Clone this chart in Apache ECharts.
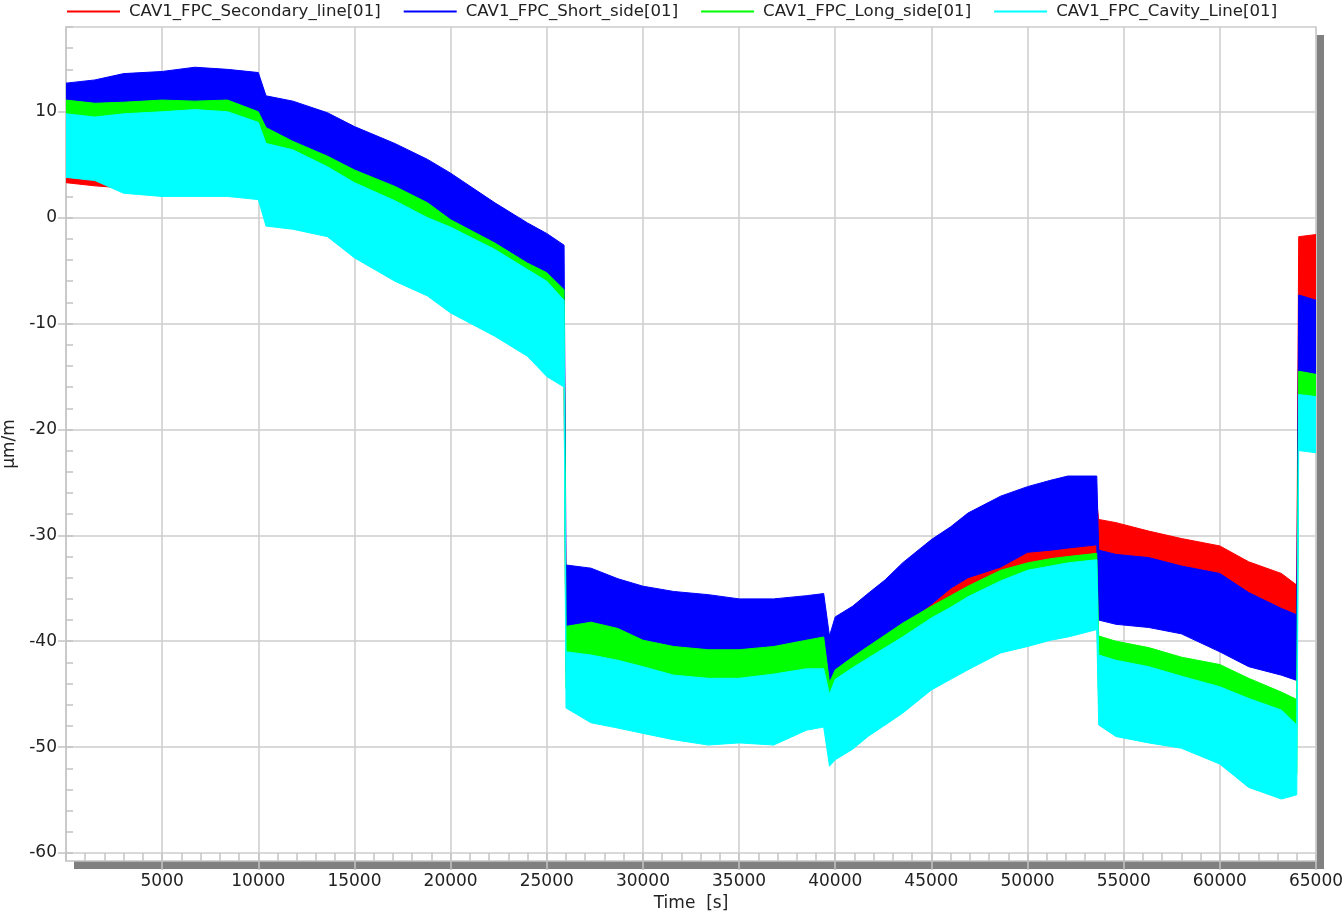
<!DOCTYPE html>
<html>
<head>
<meta charset="utf-8">
<title>CAV1 FPC strain</title>
<script src="https://cdn.jsdelivr.net/npm/echarts@6/dist/echarts.min.js"></script>
<style>
  html, body { margin: 0; padding: 0; background: #ffffff; }
  #chart { width: 1342px; height: 915px; }
</style>
</head>
<body>
<div id="chart"></div>
<script>
// Sample times [s] shared by every channel envelope
const timeS = [0, 1500, 3000, 5000, 6700, 8400, 10000, 10400, 11800, 13600, 15000, 17100, 18800, 20000, 22300, 24000, 25000, 25900,
  26000, 27300, 28700, 30000, 31600, 33400, 35000, 36800, 38500, 39400, 39700,
  40000, 40900, 41700, 42600, 43500, 45000, 46000, 46900, 48600, 50000, 51200, 52100, 53600,
  53700, 54600, 56300, 58000, 60000, 61500, 63200, 64000, 64100, 65000];

// Upper / lower envelope of each strain channel [µm/m]
const secondaryUpper = [10.7, 10.4, 10.5, 10.7, 10.6, 10.7, 9.6, 8.1, 6.8, 5.4, 4.1, 2.5, 1.0, -0.6, -2.8, -4.7, -5.6, -7.2,
  -37.5, -37.5, -38, -38.5, -39, -39.5, -39.5, -39.3, -39, -38.8, -42,
  -40.2, -39.2, -38, -36.7, -35.1, -32.9, -31.7, -30.4, -28.8, -27.9, -27.3, -26.9, -26.9,
  -28.5, -28.8, -29.6, -30.3, -31.0, -32.5, -33.6, -34.7, -1.8, -1.6];
const secondaryLower = [3.3, 3.0, 2.8, 2.5, 2.5, 2.5, 2.2, 0, -0.3, -1.0, -3.0, -5.2, -6.6, -8.2, -10.4, -12.3, -14.2, -15.2,
  -43, -43.5, -44, -44.5, -45, -45.5, -45.5, -45, -44.5, -44.3, -47,
  -43.5, -42.3, -41.3, -40.2, -39.1, -37.5, -36.5, -35.6, -34.1, -33.4, -33.0, -32.8, -32.5,
  -35, -35.5, -36, -36.5, -37, -38.5, -40, -40.5, -10, -10];

const shortUpper = [12.7, 13.0, 13.6, 13.8, 14.2, 14.0, 13.7, 11.5, 11.0, 9.9, 8.6, 7.0, 5.5, 4.2, 1.4, -0.5, -1.5, -2.6,
  -32.8, -33.1, -34.1, -34.8, -35.3, -35.6, -36.0, -36.0, -35.7, -35.5, -39.5,
  -37.7, -36.7, -35.5, -34.2, -32.6, -30.4, -29.2, -27.9, -26.3, -25.4, -24.8, -24.4, -24.4,
  -31.4, -31.8, -32.1, -32.9, -33.6, -35.4, -36.9, -37.5, -7.3, -7.8];
const shortLower = [8, 8, 8, 8, 8, 8, 7, 5, 4.5, 3.5, 2.5, 1, -0.5, -2, -4, -6, -7, -8.5,
  -40, -40.5, -41, -41.5, -42, -42.5, -42.5, -42, -41.5, -41, -44.5,
  -44, -43, -41.5, -40, -38.5, -36.5, -35, -34, -33, -31.6, -31.4, -31.2, -30.9,
  -38.0, -38.4, -38.7, -39.3, -41.0, -42.4, -43.2, -43.7, -15.5, -15.5];

const longUpper = [11.1, 10.8, 10.9, 11.1, 11.0, 11.1, 10.0, 8.5, 7.2, 5.8, 4.5, 2.95, 1.4, -0.2, -2.4, -4.3, -5.2, -6.8,
  -38.6, -38.2, -38.8, -39.9, -40.5, -40.8, -40.8, -40.5, -39.9, -39.6, -43.9,
  -42.7, -41.5, -40.5, -39.4, -38.3, -36.7, -35.7, -34.8, -33.3, -32.6, -32.2, -32.0, -31.7,
  -39.5, -40.0, -40.6, -41.5, -42.2, -43.5, -44.8, -45.5, -14.5, -14.8];
const longLower = [5.5, 5.0, 4.0, 4.0, 4.0, 4.0, 3.5, 1.0, 0.8, 0, -2, -4, -5.5, -7, -9, -11, -13, -14,
  -44.5, -45.5, -46, -46.5, -47, -47.5, -47.5, -47.5, -46.5, -46, -49,
  -49, -48, -47, -46, -45, -43, -42, -41, -39.5, -38.8, -38.2, -37.8, -37.2,
  -46, -47, -47.5, -48, -49.5, -51.5, -52.5, -52.5, -18, -18];

const cavityUpper = [9.8, 9.5, 9.8, 10.0, 10.2, 10.0, 9.0, 7.0, 6.4, 4.8, 3.3, 1.6, 0.0, -0.9, -3.0, -4.9, -6.0, -7.8,
  -41.0, -41.3, -41.8, -42.4, -43.2, -43.5, -43.5, -43.1, -42.6, -42.6, -45.0,
  -43.6, -42.5, -41.6, -40.6, -39.6, -37.8, -36.8, -35.8, -34.3, -33.3, -32.9, -32.6, -32.3,
  -41.3, -41.8, -42.4, -43.3, -44.3, -45.4, -46.5, -47.9, -16.7, -16.9];
const cavityLower = [3.8, 3.5, 2.3, 2.0, 2.0, 2.0, 1.7, -0.8, -1.1, -1.8, -3.8, -6.0, -7.4, -9.0, -11.2, -13.1, -15.0, -16.0,
  -46.3, -47.7, -48.2, -48.7, -49.3, -49.8, -49.6, -49.8, -48.4, -48.1, -51.8,
  -51.2, -50.2, -49.0, -47.9, -46.8, -44.6, -43.6, -42.7, -41.1, -40.5, -39.9, -39.6, -38.9,
  -47.9, -49.0, -49.6, -50.1, -51.6, -53.8, -54.9, -54.5, -22.0, -22.2];

// Axis tick values
const yMajorTicks = [-60, -50, -40, -30, -20, -10, 0, 10];
const yMinorTicks = [-60, -58, -56, -54, -52, -50, -48, -46, -44, -42, -40, -38, -36, -34, -32, -30, -28, -26, -24, -22,
  -20, -18, -16, -14, -12, -10, -8, -6, -4, -2, 0, 2, 4, 6, 8, 10, 12, 14, 16, 18];

const channels = [
  { name: 'CAV1_FPC_Secondary_line[01]', color: '#ff0000', upper: secondaryUpper, lower: secondaryLower },
  { name: 'CAV1_FPC_Short_side[01]',     color: '#0000ff', upper: shortUpper,     lower: shortLower },
  { name: 'CAV1_FPC_Long_side[01]',      color: '#00ff00', upper: longUpper,      lower: longLower },
  { name: 'CAV1_FPC_Cavity_Line[01]',    color: '#00ffff', upper: cavityUpper,    lower: cavityLower }
];

const FONT = 'DejaVu Sans';
const GRID_LINE = '#cccccc';
const AXIS_GRAY = '#c4c4c4';
const LABEL_SIZE = 17;
const Y_MIN = -60.75;
const Y_MAX = 18;

// Each channel is drawn as one filled band between its lower and upper envelope
function bandRenderer(ch) {
  return function (params, api) {
    if (params.dataIndex !== 0) return null;
    const pts = [];
    for (let i = 0; i < timeS.length; i++) pts.push(api.coord([timeS[i], ch.upper[i]]));
    for (let i = timeS.length - 1; i >= 0; i--) pts.push(api.coord([timeS[i], ch.lower[i]]));
    return {
      type: 'polygon',
      shape: { points: pts },
      style: { fill: ch.color, stroke: ch.color, lineWidth: 1 }
    };
  };
}

const series = channels.map(function (ch) {
  return {
    type: 'custom',
    name: ch.name,
    coordinateSystem: 'cartesian2d',
    xAxisIndex: 0,
    yAxisIndex: 0,
    clip: true,
    silent: true,
    animation: false,
    itemStyle: { color: ch.color },
    encode: { x: 0, y: [1, 2] },
    data: timeS.map(function (t, i) { return [t, ch.lower[i], ch.upper[i]]; }),
    renderItem: bandRenderer(ch)
  };
});

// Plain frame edges (top and right) of the plot area
const frameAxisLine = { show: true, onZero: false, lineStyle: { color: GRID_LINE, width: 1.5 } };

const chart = echarts.init(document.getElementById('chart'), null, { renderer: 'canvas' });

chart.setOption({
  backgroundColor: '#ffffff',
  animation: false,
  textStyle: { fontFamily: FONT },
  legend: {
    data: channels.map(function (c) { return c.name; }),
    left: 67,
    top: 3,
    padding: 0,
    icon: 'rect',
    itemWidth: 53,
    itemHeight: 2,
    itemGap: 23,
    selectedMode: false,
    textStyle: { fontFamily: FONT, fontSize: 16.6, color: '#222222', padding: [0, 0, 0, 4] }
  },
  grid: {
    left: 66,
    right: 26,
    top: 27,
    bottom: 54,
    outerBoundsMode: 'none',
    show: true,
    backgroundColor: '#ffffff',
    borderWidth: 0,
    shadowColor: '#808080',
    shadowBlur: 0,
    shadowOffsetX: 8,
    shadowOffsetY: 8
  },
  xAxis: [
    {
      type: 'value',
      position: 'bottom',
      min: 0,
      max: 65000,
      interval: 5000,
      name: 'Time  [s]',
      nameLocation: 'middle',
      nameGap: 32,
      nameTextStyle: { fontFamily: FONT, fontSize: LABEL_SIZE, color: '#222222' },
      axisLine: { show: true, onZero: false, lineStyle: { color: AXIS_GRAY, width: 1.5 } },
      axisTick: { show: true, inside: false, length: 9, lineStyle: { color: AXIS_GRAY, width: 1.5 } },
      axisLabel: {
        show: true, margin: 12, fontFamily: FONT, fontSize: LABEL_SIZE, color: '#222222',
        showMinLabel: false,
        formatter: function (v) { return String(v); }
      },
      splitLine: { show: true, lineStyle: { color: GRID_LINE, width: 1.5 } }
    },
    {
      type: 'value',
      position: 'bottom',
      min: 0,
      max: 65000,
      interval: 1000,
      axisLine: { show: false, onZero: false },
      axisTick: { show: true, inside: true, length: 8, lineStyle: { color: AXIS_GRAY, width: 1.5 } },
      axisLabel: { show: false },
      splitLine: { show: false }
    },
    {
      type: 'value',
      position: 'top',
      min: 0,
      max: 65000,
      axisLine: frameAxisLine,
      axisTick: { show: false },
      axisLabel: { show: false },
      splitLine: { show: false }
    }
  ],
  yAxis: [
    {
      type: 'value',
      position: 'left',
      min: Y_MIN,
      max: Y_MAX,
      name: 'µm/m',
      nameLocation: 'middle',
      nameGap: 39,
      nameRotate: 90,
      nameTextStyle: { fontFamily: FONT, fontSize: LABEL_SIZE, color: '#222222' },
      axisLine: { show: true, onZero: false, lineStyle: { color: AXIS_GRAY, width: 1.5 } },
      axisTick: { show: true, inside: false, length: 8, customValues: yMajorTicks, lineStyle: { color: AXIS_GRAY, width: 1.5 } },
      axisLabel: {
        show: true, margin: 9, fontFamily: FONT, fontSize: LABEL_SIZE, color: '#222222',
        customValues: yMajorTicks,
        formatter: function (v) { return String(v); }
      },
      splitLine: { show: true, lineStyle: { color: GRID_LINE, width: 1.5 } }
    },
    {
      type: 'value',
      position: 'left',
      min: Y_MIN,
      max: Y_MAX,
      axisLine: { show: false, onZero: false },
      axisTick: { show: true, inside: true, length: 7, customValues: yMinorTicks, lineStyle: { color: AXIS_GRAY, width: 1.5 } },
      axisLabel: { show: false },
      splitLine: { show: false }
    },
    {
      type: 'value',
      position: 'right',
      min: Y_MIN,
      max: Y_MAX,
      axisLine: frameAxisLine,
      axisTick: { show: false },
      axisLabel: { show: false },
      splitLine: { show: false }
    }
  ],
  series: series
});
</script>
</body>
</html>
